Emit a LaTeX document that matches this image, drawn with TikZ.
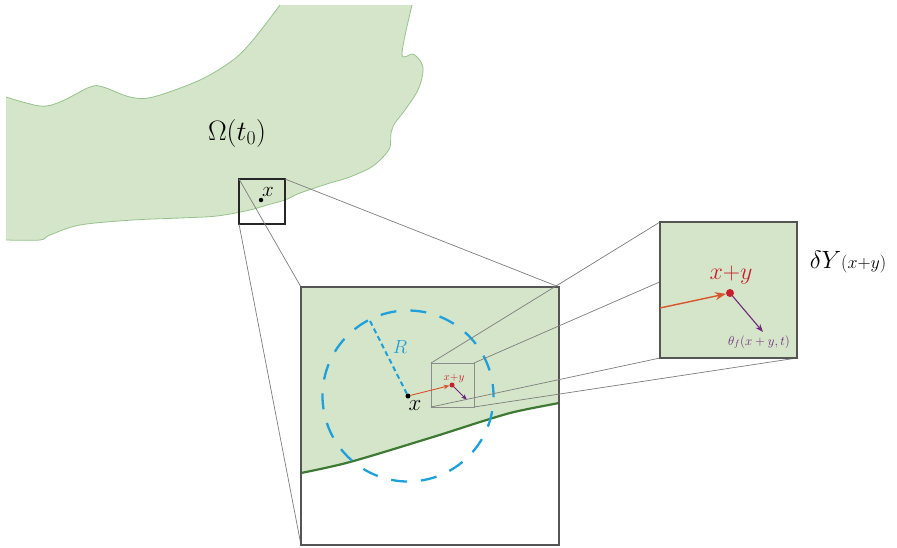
\RequirePackage{fix-cm}
\documentclass[tikz,border=0pt]{standalone}
\usetikzlibrary{arrows.meta}

\definecolor{fluidfill}{RGB}{213,229,201}
\definecolor{blobline}{RGB}{150,195,140}
\definecolor{wallgreen}{RGB}{62,122,52}
\definecolor{ballblue}{RGB}{30,160,220}
\definecolor{ptred}{RGB}{200,30,45}
\definecolor{arrorange}{RGB}{215,85,45}
\definecolor{arrpurple}{RGB}{110,40,125}
\definecolor{framegray}{RGB}{85,85,85}
\definecolor{linkgray}{RGB}{125,125,125}

\newcommand\setfs[1]{\fontsize{#1}{#1}\selectfont}

\pgfdeclarelayer{blob}
\pgfdeclarelayer{linksA}
\pgfdeclarelayer{linksB}
\pgfdeclarelayer{front}
\pgfsetlayers{blob,linksA,main,linksB,front}

\tikzset{
  zoombox/.style={rectangle, inner sep=0pt, outer sep=0pt, line width=1.1pt},
  link/.style={draw=linkgray, line width=0.7pt},
  ptdot/.style={circle, fill=#1, inner sep=0pt, outer sep=0pt},
  lbl/.style={inner sep=0pt, outer sep=0pt},
}

\begin{document}
\begin{tikzpicture}[x=1pt,y=-1pt]
\useasboundingbox (0,0) rectangle (897,547);

% ---------------- fluid domain and first window ----------------
\begin{pgfonlayer}{blob}
\fill[fluidfill]
  plot[smooth,tension=0.55] coordinates {(6,97) (40,106) (60,102) (90,87) (103,87) (130,97) (153,97) (200,80) (233,60) (253,40) (280,5)}
  -- plot[smooth,tension=0.55] coordinates {(412,5) (402,54) (413,54) (421,62) (423,72) (418,90) (405,110) (395,123) (391,133) (390,147) (383,157) (370,168) (347,178) (330,183) (300,193) (285,200) (267,205) (250,210) (217,216) (180,218) (133,220) (80,225) (50,235) (40,240) (6,240)}
  -- cycle;
\draw[blobline, line width=0.8pt]
  plot[smooth,tension=0.55] coordinates {(6,97) (40,106) (60,102) (90,87) (103,87) (130,97) (153,97) (200,80) (233,60) (253,40) (280,5)};
\draw[blobline, line width=0.8pt]
  plot[smooth,tension=0.55] coordinates {(412,5) (402,54) (413,54) (421,62) (423,72) (418,90) (405,110) (395,123) (391,133) (390,147) (383,157) (370,168) (347,178) (330,183) (300,193) (285,200) (267,205) (250,210) (217,216) (180,218) (133,220) (80,225) (50,235) (40,240) (6,240)};

\node[lbl] (omega) at (237,133) {\setfs{28}$\Omega(t_0)$};

\node[zoombox, draw=black!85, minimum width=46pt, minimum height=45pt] (w1) at (262,201.5) {};
\node[ptdot=black, minimum size=4.5pt] (x1) at (261,200) {};
\node[lbl] (x1lbl) at (268,192) {\setfs{21}$x$};
\end{pgfonlayer}

% ---------------- magnified window around x ----------------
\node[zoombox, fill=white, minimum width=258pt, minimum height=258pt] (w2) at (430,416) {};
\fill[fluidfill] (w2.north west) -- (w2.north east) -- (559,403)
  -- plot[smooth,tension=0.5] coordinates {(559,403) (533,408) (510,413) (480,422) (433,437) (350,462) (301,473)}
  -- cycle;
\draw[wallgreen, line width=2.2pt]
  plot[smooth,tension=0.5] coordinates {(301,473) (350,462) (433,437) (480,422) (510,413) (533,408) (559,403)};
\draw[framegray, line width=1.1pt] (w2.north west) rectangle (w2.south east);

\node[ptdot=black, minimum size=5pt] (x2) at (408,396) {};
\draw[ballblue, line width=2.3pt, dash pattern=on 16pt off 14pt, dash phase=4pt] (x2.center) circle[radius=85.5pt];
\coordinate (rim) at (369,319);
\draw[ballblue, line width=2pt, dash pattern=on 5pt off 3.5pt] (x2) -- (rim);
\node[lbl, text=ballblue] (rlbl) at (400,347) {\setfs{19}$R$};
\node[lbl] (x2lbl) at (415,406) {\setfs{23}$x$};

\node[zoombox, draw=black!45, line width=0.8pt, minimum width=43pt, minimum height=44pt] (w3) at (452.5,385) {};
\node[ptdot=ptred, minimum size=5pt] (xy2) at (452,385) {};
\draw[arrorange, line width=0.9pt, -{Stealth[length=6pt,width=4.5pt]}] (x2) -- (xy2);
\coordinate (th2) at (467,400);
\draw[arrpurple, line width=1pt, -{Stealth[length=6pt,width=4.5pt]}] (xy2) -- (th2);
\node[lbl, text=ptred] (xy2lbl) at (454,378) {\setfs{11}$x{+}y$};

% ---------------- connectors from the first window ----------------
\begin{pgfonlayer}{linksA}
\draw[link] (w1.north west) -- (w2.north west);
\draw[link] (w1.north east) -- (w2.north east);
\draw[link] (w1.south west) -- (w2.south west);
\end{pgfonlayer}

% ---------------- cell window ----------------
\begin{pgfonlayer}{front}
\node[zoombox, draw=framegray, fill=fluidfill, minimum width=137pt, minimum height=136pt] (w4) at (728.5,290) {};
\coordinate (inflow) at (660,308);
\node[ptdot=ptred, minimum size=8pt] (xy4) at (730,293) {};
\draw[arrorange, line width=1.4pt, -{Stealth[length=11pt,width=8pt]}] (inflow) -- (xy4);
\coordinate (th4) at (763,332);
\draw[arrpurple, line width=1.1pt, -{Stealth[length=8pt,width=6pt]}] (xy4) -- (th4);
\node[lbl, text=ptred] (xy4lbl) at (731,275) {\setfs{24}$x{+}y$};
\node[lbl, text=arrpurple] (th4lbl) at (759,342) {\setfs{13}$\theta_f(x+y,t)$};
\node[lbl] (dylbl) at (848,262) {{\setfs{25}$\delta Y$}{\setfs{18}$(x{+}y)$}};
\end{pgfonlayer}

% ---------------- connectors from the inner cell ----------------
\begin{pgfonlayer}{linksB}
\draw[link] (w3.north west) -- (w4.north west);
\draw[link] (w3.north east) -- (w4.north east);
\draw[link] (w3.south west) -- (w4.south west);
\draw[link] (w3.south east) -- (w4.south east);
\end{pgfonlayer}
\end{tikzpicture}
\end{document}
